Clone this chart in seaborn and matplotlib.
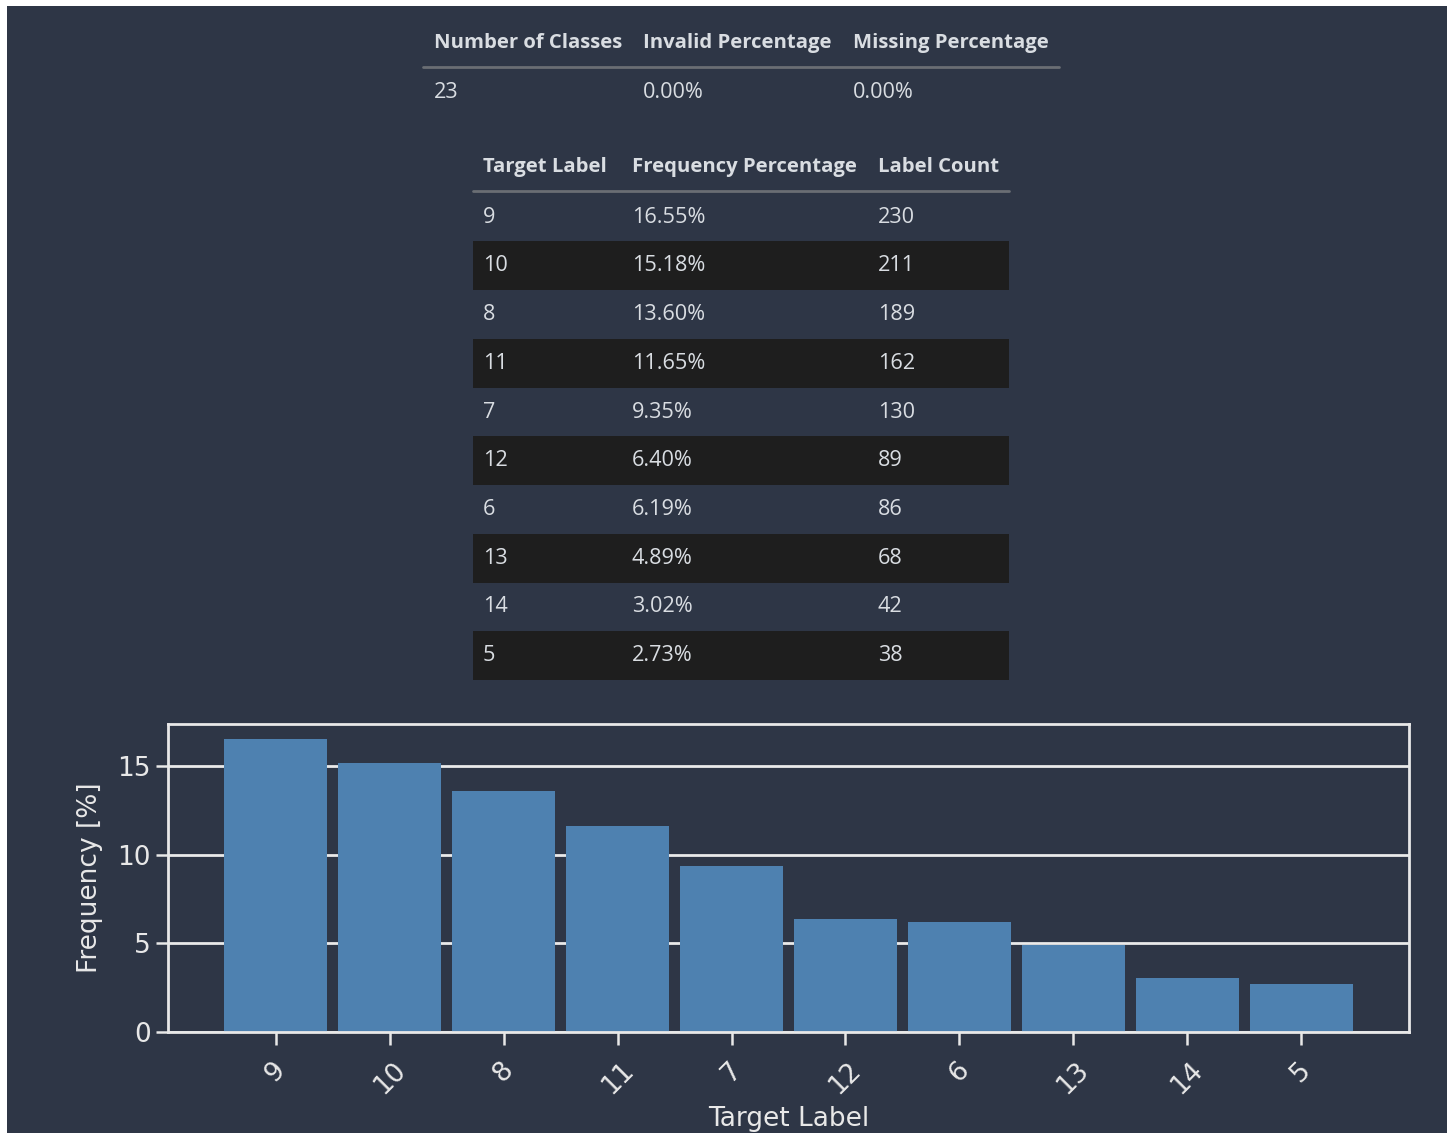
import matplotlib
matplotlib.use("Agg")
import matplotlib.pyplot as plt
import matplotlib.patches as mpatches
import matplotlib.lines as mlines
import seaborn as sns
import pandas as pd

# ---- data ----
summary_headers = ["Number of Classes", "Invalid Percentage", "Missing Percentage"]
summary_values = ["23", "0.00%", "0.00%"]

table_headers = ["Target Label", "Frequency Percentage", "Label Count"]
target_labels = ["9", "10", "8", "11", "7", "12", "6", "13", "14", "5"]
frequency_pct = [16.55, 15.18, 13.60, 11.65, 9.35, 6.40, 6.19, 4.89, 3.02, 2.73]
label_counts = [230, 211, 189, 162, 130, 89, 86, 68, 42, 38]

# ---- style ----
BG = "#2e3646"
DARK_ROW = "#1e1e1e"
TXT = "#d9dde2"
BAR = "#4e81b0"
W, H = 1453, 1133

sns.set_theme(style="darkgrid")
plt.rcParams["font.family"] = ["DejaVu Sans"]

fig = plt.figure(figsize=(W / 100, H / 100), dpi=100, facecolor="white")

def fx(px):
    return px / W

def fy(py):
    return 1 - py / H

# dark panel (screenshot has a thin white border top/left/right)
fig.patches.append(mpatches.Rectangle((fx(7), 0), fx(1447 - 7), fy(6),
                                      transform=fig.transFigure, facecolor=BG,
                                      edgecolor="none", zorder=-10))

TFONT = ["Open Sans", "DejaVu Sans"]
HSIZE = 14.6
BSIZE = 15.6

# summary table
sum_x = [434, 643, 853]
for x, h, v in zip(sum_x, summary_headers, summary_values):
    fig.text(fx(x), fy(43), h, color=TXT, fontsize=HSIZE, fontweight="bold",
             family=TFONT, va="center", ha="left")
    fig.text(fx(x), fy(93), v, color=TXT, fontsize=BSIZE, family=TFONT,
             va="center", ha="left")
fig.add_artist(mlines.Line2D([fx(423), fx(1059)], [fy(67), fy(67)],
                             color="#6a6e74", lw=2, transform=fig.transFigure))

# label frequency table
tab_x = [483, 632, 878]
for x, h in zip(tab_x, table_headers):
    fig.text(fx(x), fy(167), h, color=TXT, fontsize=HSIZE, fontweight="bold",
             family=TFONT, va="center", ha="left")
fig.add_artist(mlines.Line2D([fx(473), fx(1009)], [fy(191), fy(191)],
                             color="#6a6e74", lw=2, transform=fig.transFigure))
row0, rowh = 217, 48.75
for i, (lab, f, c) in enumerate(zip(target_labels, frequency_pct, label_counts)):
    yc = row0 + i * rowh
    if i % 2 == 1:
        fig.patches.append(mpatches.Rectangle((fx(473), fy(yc + rowh / 2)), fx(1009 - 473),
                                              rowh / H, transform=fig.transFigure,
                                              facecolor=DARK_ROW, edgecolor="none", zorder=-5))
    for x, s in zip(tab_x, [lab, f"{f:.2f}%", str(c)]):
        fig.text(fx(x), fy(yc), s, color=TXT, fontsize=BSIZE, family=TFONT,
                 va="center", ha="left")

# ---- bar chart ----
ax = fig.add_axes([fx(168), fy(1032), fx(1409 - 168), (1032 - 724) / H])
ax.set_facecolor(BG)
df = pd.DataFrame({"label": target_labels, "freq": frequency_pct})
sns.barplot(data=df, x="label", y="freq", order=target_labels, color=BAR,
            saturation=1, width=0.9, linewidth=0, edgecolor="none", ax=ax)

n = len(target_labels)
lo, hi = -0.45, n - 1 + 0.45
pad = 0.05 * (hi - lo)
ax.set_xlim(lo - pad, hi + pad)
ax.set_ylim(0, max(frequency_pct) * 1.05)
ax.set_yticks([0, 5, 10, 15])

ax.grid(axis="y", color="#eaeaea", lw=2)
ax.grid(axis="x", visible=False)
ax.set_axisbelow(True)
for sp in ax.spines.values():
    sp.set_visible(True)
    sp.set_color("#e8e8e8")
    sp.set_linewidth(2)

ax.tick_params(axis="both", colors="#e8e8e8", labelcolor="#e8e8e8", labelsize=19,
               length=9, width=1.8, direction="out", bottom=True, left=True)
ax.tick_params(axis="x", pad=9)
plt.setp(ax.get_xticklabels(), rotation=45)
ax.set_xlabel("Target Label", color="#e8e8e8", fontsize=19, labelpad=5)
ax.set_ylabel("Frequency [%]", color="#e8e8e8", fontsize=19, labelpad=10)

fig.savefig("out.png", dpi=100, facecolor=fig.get_facecolor())
